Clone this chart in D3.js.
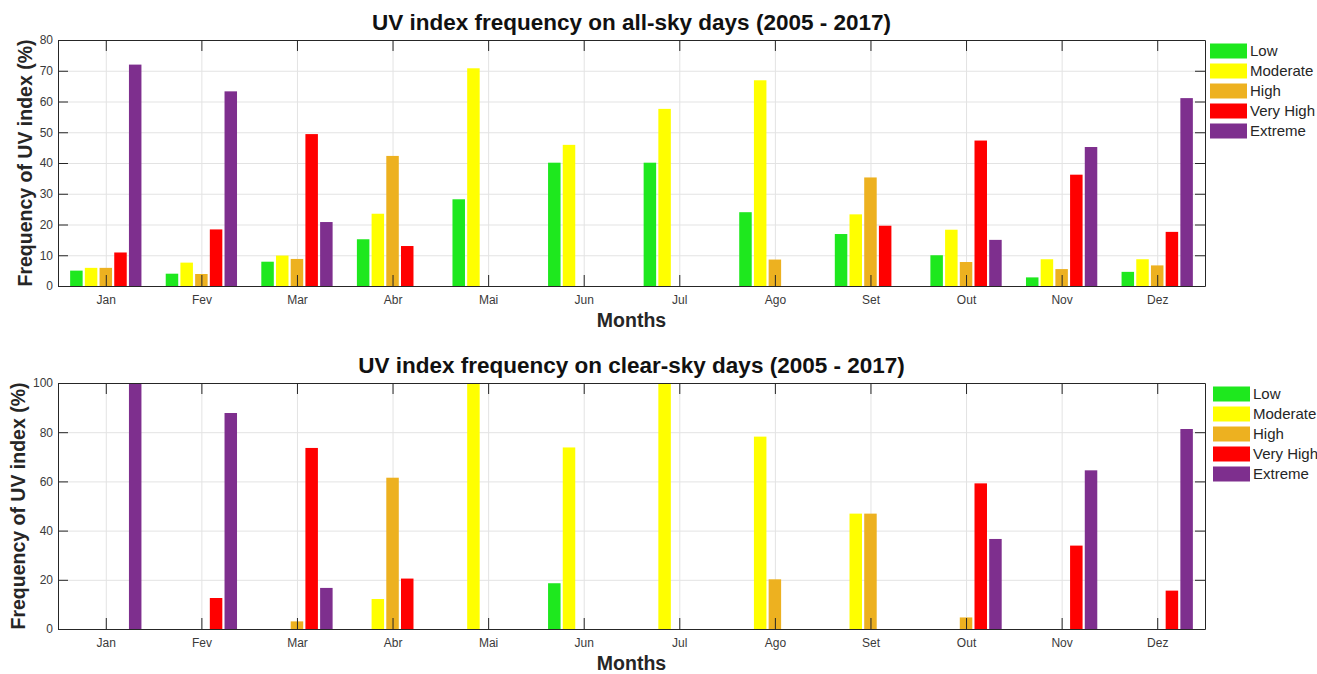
<!DOCTYPE html>
<html>
<head>
<meta charset="utf-8">
<script src="https://cdn.jsdelivr.net/npm/d3@7"></script>
<style>
  body { margin: 0; background: #fff; }
  svg { display: block; font-family: "Liberation Sans", Arial, Helvetica, sans-serif; }
  .tick text { fill: #3a3a3a; font-size: 12px; }
  .axis path, .axis line { stroke: #262626; }
  .grid line { stroke: #e3e3e3; }
  .grid path { display: none; }
</style>
</head>
<body>
<div id="chart"></div>
<script>
// months (portuguese abbreviations as in the original)
var months = ['Jan', 'Fev', 'Mar', 'Abr', 'Mai', 'Jun', 'Jul', 'Ago', 'Set', 'Out', 'Nov', 'Dez'];

var categories = ['Low', 'Moderate', 'High', 'Very High', 'Extreme'];
var colours = ['#1ee81e', '#ffff00', '#edb120', '#ff0000', '#7e2f8e'];

// all-sky days, % per month
var allLow      = [5, 4, 7.9, 15.2, 28.2, 40.1, 40.1, 24, 16.9, 10, 2.8, 4.6];
var allModerate = [5.9, 7.6, 9.9, 23.5, 70.8, 45.9, 57.6, 66.9, 23.3, 18.3, 8.7, 8.7];
var allHigh     = [5.9, 3.9, 8.8, 42.3, 0, 0, 0, 8.6, 35.3, 7.8, 5.5, 6.7];
var allVeryHigh = [10.9, 18.4, 49.4, 13, 0, 0, 0, 0, 19.6, 47.3, 36.2, 17.6];
var allExtreme  = [72, 63.3, 20.8, 0, 0, 0, 0, 0, 0, 15, 45.2, 61.1];

// clear-sky days, % per month
var clearLow      = [0, 0, 0, 0, 0, 18.6, 0, 0, 0, 0, 0, 0];
var clearModerate = [0, 0, 0, 12.2, 100, 73.8, 100, 78.2, 46.9, 0, 0, 0];
var clearHigh     = [0, 0, 3.1, 61.5, 0, 0, 0, 20.2, 46.9, 4.7, 0, 0];
var clearVeryHigh = [0, 12.6, 73.6, 20.5, 0, 0, 0, 0, 0, 59.2, 33.9, 15.6];
var clearExtreme  = [100, 87.8, 16.7, 0, 0, 0, 0, 0, 0, 36.6, 64.5, 81.3];

var allTicks = [0, 10, 20, 30, 40, 50, 60, 70, 80];
var clearTicks = [0, 20, 40, 60, 80, 100];

var width = 1317, height = 674;

var svg = d3.select('#chart')
    .append('svg')
    .attr('width', width)
    .attr('height', height);

var left = 58, right = 1205;

var x = d3.scaleLinear()
    .domain([0.5, 12.5])
    .range([left, right]);

var slot = 0.1538;   // one bar slot inside a month group (x units)
var barW = 0.85 * slot;

var drawPanel = function (p) {
    var g = svg.append('g');

    var y = d3.scaleLinear()
        .domain([0, p.max])
        .range([p.bottom, p.top]);

    // grid
    g.append('g')
        .attr('class', 'grid')
        .attr('transform', 'translate(0,' + p.bottom + ')')
        .call(d3.axisBottom(x).tickValues(d3.range(1, 13)).tickSize(-(p.bottom - p.top)).tickFormat(''));
    g.append('g')
        .attr('class', 'grid')
        .attr('transform', 'translate(' + left + ',0)')
        .call(d3.axisLeft(y).tickValues(p.ticks).tickSize(-(right - left)).tickFormat(''));

    // bars
    p.series.forEach(function (vals, j) {
        g.append('g')
            .selectAll('rect')
            .data(vals)
            .enter()
            .append('rect')
            .attr('x', (d, i) => x(i + 1 + (j - 2) * slot - barW / 2))
            .attr('width', x(barW) - x(0))
            .attr('y', d => y(d))
            .attr('height', d => y(0) - y(d))
            .attr('fill', colours[j]);
    });

    // axes (box with inward ticks)
    var xb = g.append('g')
        .attr('class', 'axis')
        .attr('transform', 'translate(0,' + p.bottom + ')')
        .call(d3.axisBottom(x).tickValues(d3.range(1, 13)).tickSizeInner(-11).tickSizeOuter(0).tickPadding(9)
            .tickFormat(d => months[d - 1]));
    xb.selectAll('.tick text').attr('font-size', 12).attr('font-family', null);

    g.append('g')
        .attr('class', 'axis')
        .attr('transform', 'translate(0,' + p.top + ')')
        .call(d3.axisTop(x).tickValues(d3.range(1, 13)).tickSizeInner(-11).tickSizeOuter(0).tickFormat(''));

    var yl = g.append('g')
        .attr('class', 'axis')
        .attr('transform', 'translate(' + left + ',0)')
        .call(d3.axisLeft(y).tickValues(p.ticks).tickSizeInner(-10).tickSizeOuter(0).tickPadding(5));
    yl.selectAll('.tick text').attr('font-size', 12).attr('font-family', null);

    g.append('g')
        .attr('class', 'axis')
        .attr('transform', 'translate(' + right + ',0)')
        .call(d3.axisRight(y).tickValues(p.ticks).tickSizeInner(-10).tickSizeOuter(0).tickFormat(''));

    // title and labels
    g.append('text')
        .attr('x', (left + right) / 2)
        .attr('y', p.top - 10)
        .attr('text-anchor', 'middle')
        .attr('font-size', 22.5)
        .attr('font-weight', 'bold')
        .attr('fill', '#111')
        .text(p.title);

    g.append('text')
        .attr('x', (left + right) / 2)
        .attr('y', p.bottom + 41)
        .attr('text-anchor', 'middle')
        .attr('font-size', 19.5)
        .attr('font-weight', 'bold')
        .attr('fill', '#262626')
        .text('Months');

    g.append('text')
        .attr('transform', 'translate(' + p.ylabX + ',' + (p.top + p.bottom) / 2 + ') rotate(-90)')
        .attr('text-anchor', 'middle')
        .attr('font-size', 19.5)
        .attr('font-weight', 'bold')
        .attr('fill', '#262626')
        .text('Frequency of UV index (%)');

    // legend
    var leg = g.append('g')
        .attr('transform', 'translate(' + p.legX + ',' + p.legY + ')');
    categories.forEach(function (c, k) {
        leg.append('rect')
            .attr('x', 0)
            .attr('y', k * 20 - 7.5)
            .attr('width', 37)
            .attr('height', 15)
            .attr('fill', colours[k]);
        leg.append('text')
            .attr('x', 40)
            .attr('y', k * 20)
            .attr('dy', '0.35em')
            .attr('font-size', 15)
            .attr('fill', '#262626')
            .text(c);
    });
};

drawPanel({
    title: 'UV index frequency on all-sky days (2005 - 2017)',
    top: 40, bottom: 286, max: 80, ticks: allTicks,
    series: [allLow, allModerate, allHigh, allVeryHigh, allExtreme],
    ylabX: 32, legX: 1210, legY: 51
});

drawPanel({
    title: 'UV index frequency on clear-sky days (2005 - 2017)',
    top: 383, bottom: 629, max: 100, ticks: clearTicks,
    series: [clearLow, clearModerate, clearHigh, clearVeryHigh, clearExtreme],
    ylabX: 25, legX: 1213, legY: 394
});
</script>
</body>
</html>
